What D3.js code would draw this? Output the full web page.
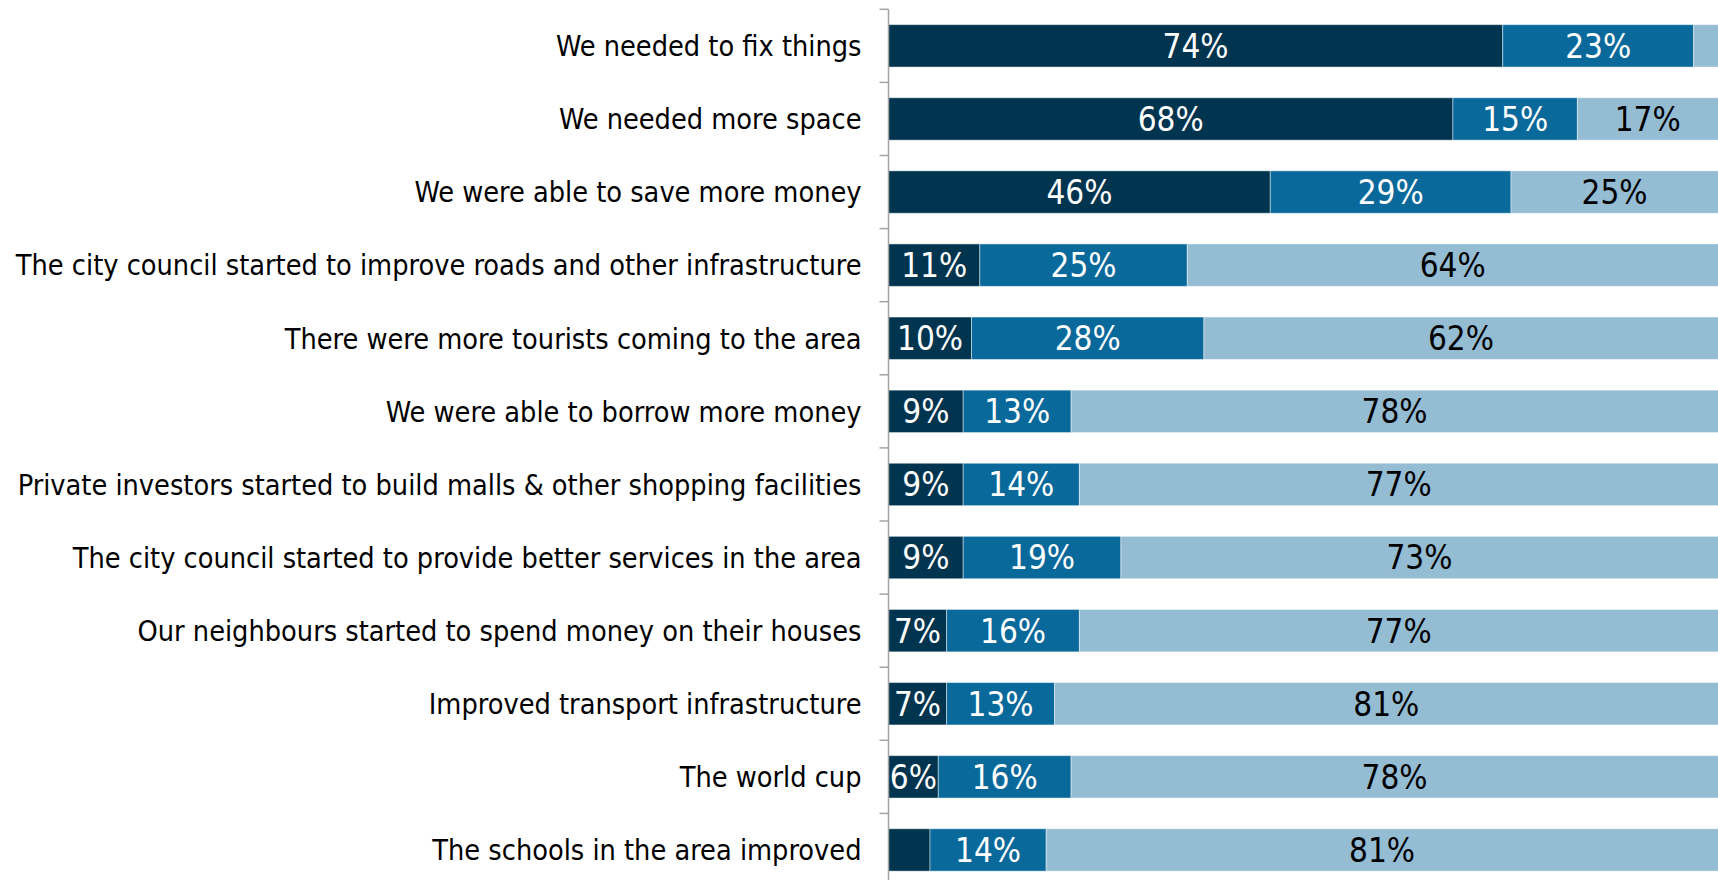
<!DOCTYPE html>
<html>
<head>
<meta charset="utf-8">
<script src="https://cdn.jsdelivr.net/npm/d3@7"></script>
<style>
  html, body { margin: 0; padding: 0; background: #ffffff; }
  svg { display: block; }
  text { font-family: "DejaVu Sans Condensed", "DejaVu Sans", sans-serif; }
</style>
</head>
<body>
<svg id="chart" width="1718" height="880"></svg>
<script>
// Reasons given for improving the house, share of respondents (%)
const categories = [
  "We needed to fix things",
  "We needed more space",
  "We were able to save more money",
  "The city council started to improve roads and other infrastructure",
  "There were more tourists coming to the area",
  "We were able to borrow more money",
  "Private investors started to build malls & other shopping facilities",
  "The city council started to provide better services in the area",
  "Our neighbours started to spend money on their houses",
  "Improved transport infrastructure",
  "The world cup",
  "The schools in the area improved"
];
const seriesKeys = ["major", "minor", "none"];
const majorValues = [74, 68, 46, 11, 10, 9, 9, 9, 7, 7, 6, 5];
const minorValues = [23, 15, 29, 25, 28, 13, 14, 19, 16, 13, 16, 14];
const noneValues  = [3, 17, 25, 64, 62, 78, 77, 73, 77, 81, 78, 81];
const xDomain = [0, 100];

const colors = { major: "#01344f", minor: "#0a699b", none: "#94bcd3" };
const labelColors = { major: "#ffffff", minor: "#ffffff", none: "#000000" };

const rows = categories.map((c, i) => ({
  category: c,
  major: majorValues[i],
  minor: minorValues[i],
  none: noneValues[i]
}));

const svg = d3.select("#chart");
const W = 1718, H = 880;

const x = d3.scaleLinear().domain(xDomain).range([888.5, 1718.5]);
const y = d3.scaleBand()
  .domain(categories)
  .range([9.3, 886.5])
  .paddingInner(0.42)
  .paddingOuter(0.21);

const stacked = d3.stack().keys(seriesKeys)(rows);

const plot = svg.append("g");

// Stacked segments
const layers = plot.selectAll("g.layer")
  .data(stacked)
  .join("g")
  .attr("class", "layer")
  .attr("fill", d => colors[d.key]);

layers.selectAll("rect")
  .data(d => d.map(v => ({ key: d.key, v })))
  .join("rect")
  .attr("x", d => x(d.v[0]))
  .attr("y", d => y(d.v.data.category))
  .attr("width", d => x(d.v[1]) - x(d.v[0]))
  .attr("height", y.bandwidth())
  .attr("stroke", "#ffffff")
  .attr("stroke-opacity", 0.45)
  .attr("stroke-width", 1);

// Value labels, centred in the visible part of each segment
layers.selectAll("text")
  .data(d => d.map(v => ({ key: d.key, v })).filter(d => d.v[1] - d.v[0] >= 5.5))
  .join("text")
  .attr("x", d => (x(d.v[0]) + Math.min(x(d.v[1]), W)) / 2)
  .attr("y", d => y(d.v.data.category) + y.bandwidth() / 2)
  .attr("dy", "0.36em")
  .attr("text-anchor", "middle")
  .attr("font-size", 33)
  .attr("fill", d => labelColors[d.key])
  .text(d => `${d.v[1] - d.v[0]}%`);

// Category axis
const axis = svg.append("g")
  .attr("transform", `translate(${x(0)},0)`)
  .call(d3.axisLeft(y).tickSize(0).tickPadding(27));

axis.select(".domain")
  .attr("d", `M0,${y.range()[0]}V${H}`)
  .attr("stroke", "#a3a3a3")
  .attr("stroke-width", 1.5);

axis.selectAll(".tick text")
  .attr("font-size", 28.6)
  .attr("fill", "#000000")
  .attr("dy", "0.36em");

// Tick marks on the band boundaries
const bounds = d3.range(categories.length + 1).map(i => y.range()[0] + i * y.step());
axis.selectAll("line.bound")
  .data(bounds)
  .join("line")
  .attr("class", "bound")
  .attr("x1", -9).attr("x2", 0)
  .attr("y1", d => d).attr("y2", d => d)
  .attr("stroke", "#a3a3a3")
  .attr("stroke-width", 1.5);
</script>
</body>
</html>
